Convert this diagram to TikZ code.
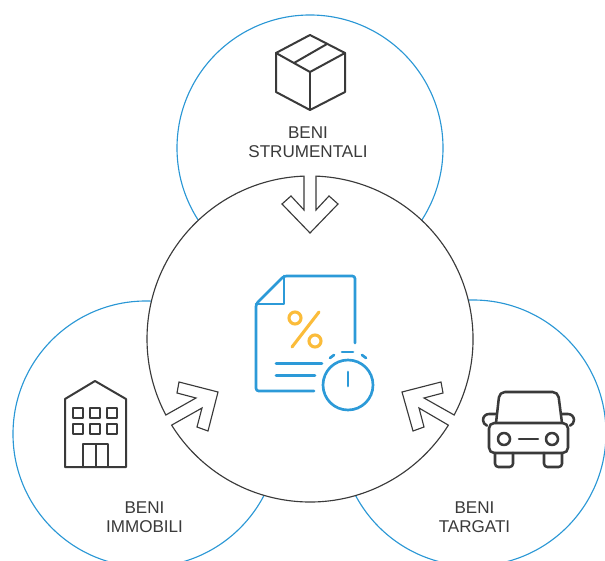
\documentclass[tikz,border=0pt]{standalone}
\usepackage{fontspec}
\setmainfont{Liberation Sans}
\usepackage{tikz}
\usetikzlibrary{calc}
\definecolor{RingBlue}{RGB}{42, 151, 213}
\definecolor{IconBlue}{RGB}{44, 154, 216}
\definecolor{PercentGold}{RGB}{251, 188, 58}
\definecolor{InkGrey}{RGB}{58, 58, 58}
\tikzset{
    ring/.style={RingBlue, line width=0.85pt},
    core/.style={InkGrey, line width=0.85pt, fill=white, line join=miter},
    darkicon/.style={InkGrey, line width=1.5pt, line join=round, line cap=round},
    heavyicon/.style={InkGrey, line width=1.9pt, line join=round, line cap=round},
    blueicon/.style={IconBlue, line width=2pt, line join=round, line cap=round},
    goldicon/.style={PercentGold, line width=2.3pt, line cap=round},
    beni/.style={InkGrey, align=center, font=\fontsize{12.8}{14.25}\selectfont, inner sep=0pt}
}

\begin{document}
\begin{tikzpicture}[x=0.75pt, y=0.75pt]
    \useasboundingbox (0,0) rectangle (605,560);
    \clip (0,0) rectangle (605,560);
    \coordinate (coreC) at (310,221);

    % outer rings
    \draw[ring] (310,412) circle (133);
    \draw[ring] (146,126) circle (133);
    \draw[ring] (473,127) circle (133);

    % central disc with the three arrows cut in
    \draw[core] ($(coreC)+(92.1:163)$) arc (92.1:207.8:163)
        -- (196,162) -- (177,167) -- (179,178) -- (218,168) -- (208,129) -- (197,133) -- (202,152)
        -- ($(coreC)+(211.9:163)$) arc (211.9:328.1:163)
        -- (419,152) -- (424,133) -- (413,129) -- (402,168) -- (441,178) -- (443,167) -- (424,162)
        -- ($(coreC)+(332.2:163)$) arc (332.2:447.9:163)
        -- (316,350) -- (329,364) -- (338,356) -- (310,327) -- (282,356) -- (291,364) -- (304,350) -- cycle;

    % box
    \draw[darkicon] (310,525) -- (345,507) -- (345,468) -- (310,450) -- (276,468) -- (276,507) -- cycle;
    \draw[darkicon] (276,507) -- (310,488) -- (345,507);
    \draw[darkicon] (310,488) -- (310,450);
    \draw[darkicon] (294,497) -- (327,516);

    % building
    \draw[darkicon] (65,93) -- (65,161) -- (95,179) -- (126,161) -- (126,93) -- cycle;
    \foreach \wx in {73,90,107}{
        \draw[heavyicon] (\wx,142) rectangle ++(10,10);
        \draw[heavyicon] (\wx,126) rectangle ++(10,10);
    }
    \draw[heavyicon] (83,93) rectangle (108,116);
    \draw[darkicon] (95.5,93) -- (95.5,116);

    % car
    \draw[heavyicon, rounded corners=4pt] (489,137) rectangle (568,107);
    \draw[heavyicon, rounded corners=4pt] (496,137) -- (499.5,168) -- (558,168) -- (562,137);
    \draw[heavyicon] (496,146) -- (489,146) arc (90:250:6);
    \draw[heavyicon] (561,146) -- (568,146) arc (90:-70:6);
    \draw[heavyicon] (504,121) circle (6);
    \draw[heavyicon] (552,121) circle (6);
    \draw[heavyicon] (519,121) -- (538,121);
    \draw[heavyicon, rounded corners=2.5pt] (495,107) -- (495,93) -- (513,93) -- (513,107);
    \draw[heavyicon, rounded corners=2.5pt] (544,107) -- (544,93) -- (562,93) -- (562,107);

    % document
    \draw[blueicon, rounded corners=2pt] (355,217) -- (355,284) -- (284,284) -- (256,256) -- (256,169) -- (314,169);
    \draw[blueicon] (284,284) -- (284,256) -- (256,256);
    \draw[blueicon] (276,196.5) -- (322,196.5);
    \draw[blueicon] (276,184.5) -- (315,184.5);

    % percent
    \draw[goldicon] (295,242) circle (6);
    \draw[goldicon] (315,219) circle (6);
    \draw[goldicon] (319,248) -- (292,213);

    % clock
    \draw[blueicon] (348,175) circle (25);
    \draw[blueicon] (348,188) -- (348,174);
    \draw[blueicon] (342,208) -- (353,208);
    \draw[blueicon] (330,202) -- (334,205);
    \draw[blueicon] (362,205) -- (366,202);

    \node[beni] (strumentali) at (308,418) {BENI\\STRUMENTALI};
    \node[beni] (immobili) at (144.5,43) {BENI\\IMMOBILI};
    \node[beni] (targati) at (474.5,43) {BENI\\TARGATI};
\end{tikzpicture}
\end{document}
